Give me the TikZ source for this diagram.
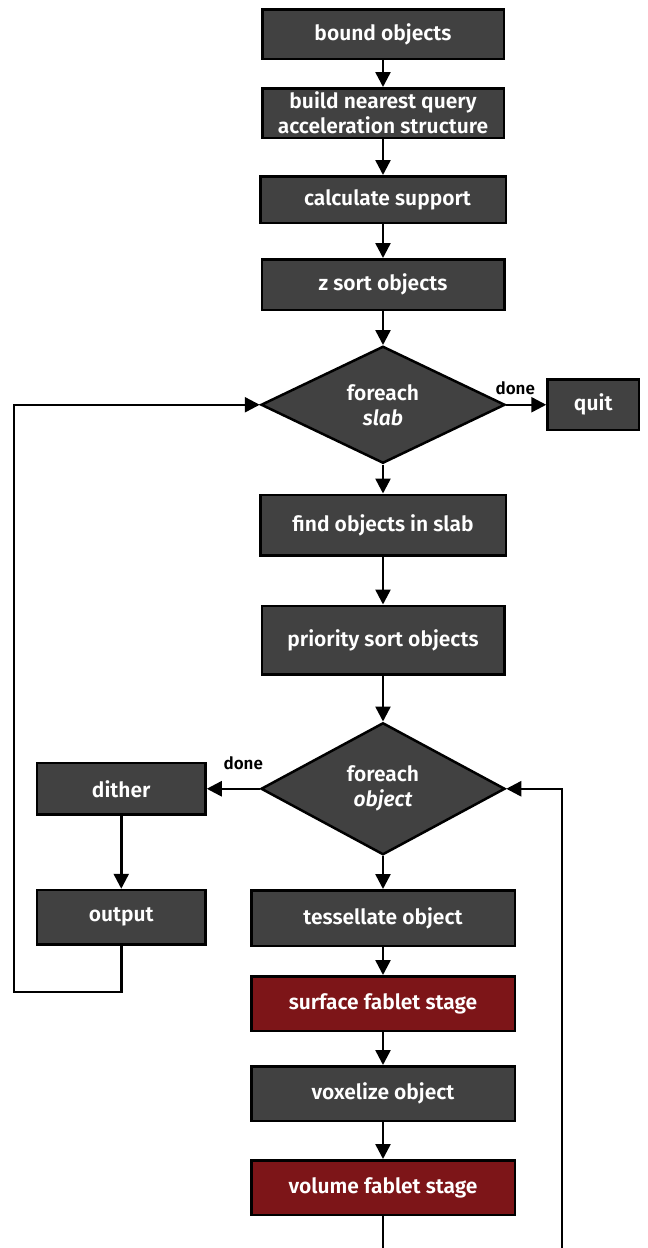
\documentclass[tikz,border=0pt]{standalone}
\usepackage{fontspec}
\setmainfont{Fira Sans}[BoldFont={Fira Sans SemiBold}, BoldItalicFont={Fira Sans SemiBold Italic}]
\usetikzlibrary{positioning, arrows.meta, shapes.geometric}
\definecolor{boxgrey}{HTML}{414141}
\definecolor{stagered}{HTML}{7D1518}
\tikzset{
	arrow/.style={
		draw=black,
		line width=2.5pt,
		-{Triangle[length=15pt,width=15pt]}
    },
	stepbox/.style={
		draw=black,
		line width=2.5pt,
		rectangle,
		fill=boxgrey,
		text=white,
		align=center,
		inner sep=2pt,
		font=\fontsize{21}{25}\selectfont\bfseries
    },
	decision/.style={
		stepbox,
		diamond,
		inner sep=0pt,
		minimum width=244pt
    },
	donelabel/.style={
		font=\fontsize{17}{20}\selectfont\bfseries,
		text=black
    },
}

\begin{document}
\begin{tikzpicture}[x=1pt,y=1pt]

\path[use as bounding box, clip] (0,0) rectangle (648,-1248);

% Setup steps
\node[stepbox, minimum width=241.5pt, minimum height=49.5pt] (Bound) at (383,-34) {bound objects};
\node[stepbox, minimum width=241.5pt, minimum height=49.5pt, below = 27pt of Bound] (Build) {build nearest query\\acceleration structure};
\node[stepbox, minimum width=245.5pt, minimum height=46.5pt, below = 36pt of Build] (Support) {\hspace{9pt}calculate support};
\node[stepbox, minimum width=242.5pt, minimum height=50.5pt, below = 34pt of Support] (ZSort) {z sort objects};

% Slab loop
\node[decision, minimum height=117pt, below = 34pt of ZSort] (Slab) {foreach\\\itshape slab};
\node[stepbox, minimum width=91.5pt, minimum height=50.5pt, right = 40pt of Slab] (Quit) {quit};
\node[stepbox, minimum width=245.5pt, minimum height=60.5pt, below = 29pt of Slab] (Find) {find objects in slab};
\node[stepbox, minimum width=242.5pt, minimum height=68.5pt, below = 48pt of Find] (Priority) {priority sort objects};

% Object loop
\node[decision, minimum height=132pt, below = 46pt of Priority] (Object) {foreach\\\itshape object};
\node[stepbox, minimum width=168.5pt, minimum height=51.5pt, left = 53pt of Object] (Dither) {dither};
\node[stepbox, minimum width=168.5pt, minimum height=54.5pt, below = 73pt of Dither] (Output) {output};
\node[stepbox, minimum width=263.5pt, minimum height=55.5pt, below = 33pt of Object] (Tess) {tessellate object};
\node[stepbox, fill=stagered, minimum width=263.5pt, minimum height=54.5pt, below = 28pt of Tess] (Surface) {surface fablet stage};
\node[stepbox, minimum width=263.5pt, minimum height=54.5pt, below = 33pt of Surface] (Voxel) {voxelize object};
\node[stepbox, fill=stagered, minimum width=263.5pt, minimum height=54.5pt, below = 37pt of Voxel] (Volume) {volume fablet stage};

% Loop corners
\coordinate (LoopL) at (14,-404);
\coordinate (LoopR) at (562,-790);

% Arrows
\draw [arrow] (Bound) -- (Build);
\draw [arrow] (Build) -- (Support);
\draw [arrow] (Support) -- (ZSort);
\draw [arrow] (ZSort) -- (Slab);
\draw [arrow] (Slab) -- node[donelabel, above=5pt, xshift=-11pt] {done} (Quit);
\draw [arrow] (Slab) -- (Find);
\draw [arrow] (Find) -- (Priority);
\draw [arrow] (Priority) -- (Object);
\draw [arrow] (Object) -- node[donelabel, above=14pt, xshift=10pt] {done} (Dither);
\draw [arrow] (Dither) -- (Output);
\draw [arrow] (Object) -- (Tess);
\draw [arrow] (Tess) -- (Surface);
\draw [arrow] (Surface) -- (Voxel);
\draw [arrow] (Voxel) -- (Volume);
\draw [arrow] (Output.south) -- ++(0,-46) -| (LoopL |- Slab.west) -- (Slab.west);
\draw [arrow] (Volume.south) -- ++(0,-60) -| (LoopR |- Object.east) -- (Object.east);

\end{tikzpicture}
\end{document}
